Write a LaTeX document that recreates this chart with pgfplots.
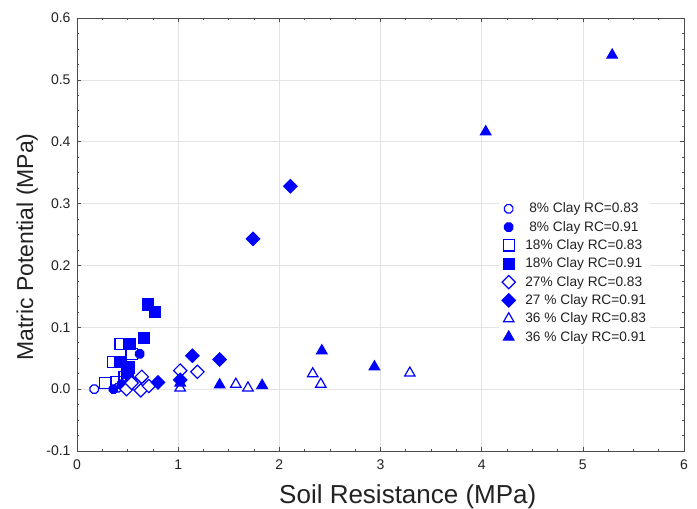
\documentclass[border=0pt]{standalone}
\usepackage{fontspec}
\setmainfont{Liberation Sans}
\usepackage{pgfplots}
\pgfplotsset{compat=1.18}
\definecolor{mblue}{RGB}{0,0,255}
\definecolor{txt}{RGB}{34,34,34}
% eight-sided marker, like the original's "circles"
\pgfdeclareplotmark{octagon}{%
  \pgfpathmoveto{\pgfqpoint{0.924\pgfplotmarksize}{0.383\pgfplotmarksize}}%
  \pgfpathlineto{\pgfqpoint{0.383\pgfplotmarksize}{0.924\pgfplotmarksize}}%
  \pgfpathlineto{\pgfqpoint{-0.383\pgfplotmarksize}{0.924\pgfplotmarksize}}%
  \pgfpathlineto{\pgfqpoint{-0.924\pgfplotmarksize}{0.383\pgfplotmarksize}}%
  \pgfpathlineto{\pgfqpoint{-0.924\pgfplotmarksize}{-0.383\pgfplotmarksize}}%
  \pgfpathlineto{\pgfqpoint{-0.383\pgfplotmarksize}{-0.924\pgfplotmarksize}}%
  \pgfpathlineto{\pgfqpoint{0.383\pgfplotmarksize}{-0.924\pgfplotmarksize}}%
  \pgfpathlineto{\pgfqpoint{0.924\pgfplotmarksize}{-0.383\pgfplotmarksize}}%
  \pgfpathclose
  \pgfusepathqfillstroke}
\begin{document}
\begin{tikzpicture}
\useasboundingbox (0,0) rectangle (697pt,509pt);
\begin{axis}[
    at={(77pt,58pt)}, anchor=south west,
    scale only axis,
    width=607pt, height=433pt,
    xmin=0, xmax=6, ymin=-0.1, ymax=0.6,
    xtick={0,1,...,6},
    ytick={-0.1,0,0.1,0.2,0.3,0.4,0.5,0.6},
    minor tick num=3,
    tick align=inside,
    major tick length=4pt, minor tick length=2pt,
    tick style={black!70, line width=0.6pt},
    axis line style={black!70, line width=0.8pt},
    grid=major,
    major grid style={gray!22, line width=0.5pt},
    /pgf/number format/assume math mode=true,
    ticklabel style={font=\fontsize{14}{16}\selectfont, text=txt},
    xticklabel style={yshift=-5pt},
    yticklabel style={xshift=-3pt, /pgf/number format/.cd, fixed, fixed zerofill, precision=1},
    xlabel={Soil Resistance (MPa)},
    ylabel={Matric Potential (MPa)},
    xlabel style={font=\fontsize{26}{28}\selectfont, text=txt,
        at={(axis description cs:0.545,-0.106)}, anchor=center},
    ylabel style={font=\fontsize{23}{25}\selectfont, text=txt,
        at={(axis description cs:-0.082,0.471)}, anchor=center},
    legend style={at={(0.695,0.580)}, anchor=north west, draw=none, fill=white,
        font=\fontsize{13.7}{16}\selectfont, text=txt,
        row sep=4.9pt, column sep=9pt, nodes={inner sep=1pt}},
    legend cell align=left,
    every axis plot/.append style={only marks, mblue, line width=1.2pt},
]
\addplot[mark=octagon, mark size=4.5, mark options={fill=white}] coordinates {
 (0.17,0.000) (0.40,0.002) (0.47,0.006) (0.55,0.012) (0.64,0.018)
};
\addlegendentry{\hspace{4pt}8\% Clay RC=0.83}
\addplot[mark=octagon, mark size=4.5, mark options={fill=mblue}] coordinates {
 (0.62,0.057) (0.36,0.000) (0.48,0.028) (0.52,0.016) (0.44,0.008)
};
\addlegendentry{\hspace{4pt}8\% Clay RC=0.91}
\addplot[mark=square, mark size=5.6, mark options={fill=white}] coordinates {
 (0.43,0.073) (0.54,0.057) (0.36,0.044) (0.28,0.010) (0.39,0.011) (0.47,0.020)
};
\addlegendentry{18\% Clay RC=0.83}
\addplot[mark=square*, mark size=5.6] coordinates {
 (0.70,0.137) (0.77,0.125) (0.66,0.083) (0.52,0.073) (0.43,0.044) (0.51,0.035) (0.50,0.027)
};
\addlegendentry{18\% Clay RC=0.91}
\addplot[mark=square*, mark size=4.7, mark options={rotate=45, fill=white}] coordinates {
 (0.49,0.000) (0.54,0.010) (0.63,-0.002) (0.64,0.020) (0.71,0.005) (1.02,0.030) (1.19,0.028)
};
\addlegendentry{27\% Clay RC=0.83}
\addplot[mark=square*, mark size=4.7, mark options={rotate=45}] coordinates {
 (2.11,0.328) (1.74,0.243) (1.14,0.054) (1.41,0.048) (0.80,0.011) (1.02,0.015)
};
\addlegendentry{27 \% Clay RC=0.91}
\addplot[mark=triangle*, mark size=6, mark options={fill=white}] coordinates {
 (1.02,0.002) (1.57,0.008) (1.69,0.002) (2.33,0.025) (2.41,0.008) (3.29,0.026)
};
\addlegendentry{36 \% Clay RC=0.83}
\addplot[mark=triangle*, mark size=6] coordinates {
 (5.29,0.540) (4.04,0.416) (2.42,0.062) (2.94,0.036) (1.83,0.006) (1.41,0.007) (1.02,0.010)
};
\addlegendentry{36 \% Clay RC=0.91}
\end{axis}
\end{tikzpicture}
\end{document}
